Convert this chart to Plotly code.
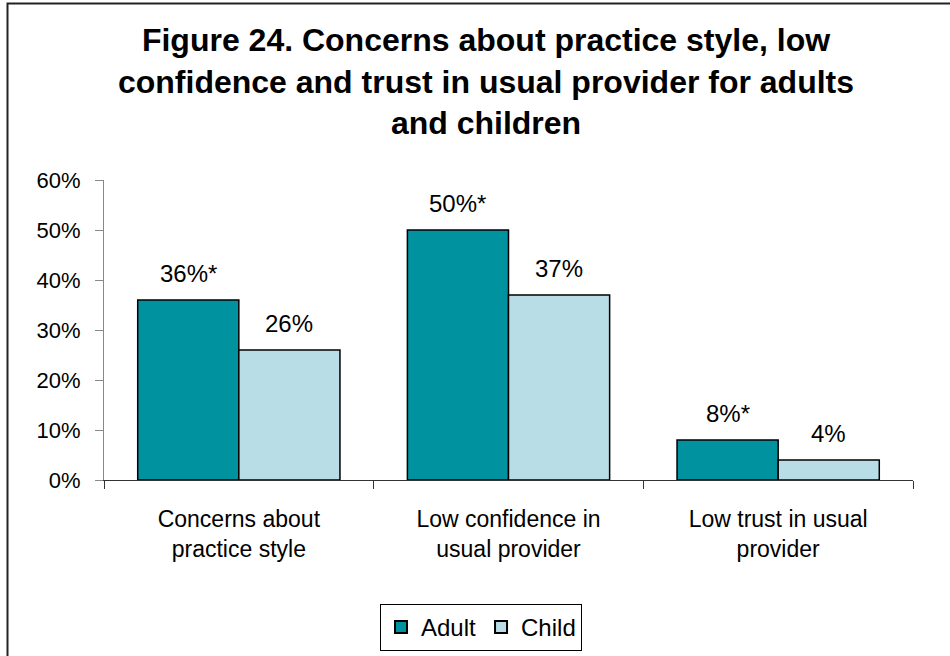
import plotly.graph_objects as go

# Survey results (percent of respondents)
categories = ["Concerns about<br>practice style",
              "Low confidence in<br>usual provider",
              "Low trust in usual<br>provider"]
adult = [36, 50, 8]
child = [26, 37, 4]
# Asterisk marks a statistically significant adult/child difference
adult_sig = [True, True, True]
child_sig = [False, False, False]
y_ticks = [0, 10, 20, 30, 40, 50, 60]
y_tick_labels = [f"{v}%" for v in y_ticks]

FONT = "Liberation Sans, Arial, sans-serif"
ADULT_COLOR = "#00929F"
CHILD_COLOR = "#B8DDE7"

W, H = 950, 656
ML, MR, MT, MB = 104, 37, 180, 176
PW, PH = W - ML - MR, H - MT - MB

fig = go.Figure()
fig.add_trace(go.Bar(name="Adult", x=categories, y=adult,
                     marker=dict(color=ADULT_COLOR, line=dict(color="black", width=1.5))))
fig.add_trace(go.Bar(name="Child", x=categories, y=child,
                     marker=dict(color=CHILD_COLOR, line=dict(color="black", width=1.5))))

BARGAP = 0.25
half = (1 - BARGAP) / 4  # centre offset of each bar in a two-bar group

annotations = []
for i in range(len(categories)):
    for vals, sig, off in ((adult, adult_sig, -half), (child, child_sig, half)):
        v = vals[i]
        annotations.append(dict(
            x=i + off, y=v, xref="x", yref="y",
            text=f"{v}%" + ("*" if sig[i] else ""),
            showarrow=False, yanchor="bottom", yshift=11,
            font=dict(family=FONT, size=24, color="black")))


def px_x(p):
    return (p - ML) / PW


def px_y(p):
    return (H - MB - p) / PH


fig.update_layout(
    width=W, height=H,
    margin=dict(l=ML, r=MR, t=MT, b=MB, autoexpand=False),
    paper_bgcolor="white", plot_bgcolor="white",
    barmode="group", bargap=BARGAP, bargroupgap=0,
    title=dict(
        text="Figure 24. Concerns about practice style, low<br>"
             "confidence and trust in usual provider for adults<br>"
             "and children",
        x=486 / W, xanchor="center", y=1 - 51 / H, yanchor="top",
        font=dict(family=FONT, size=32, color="black", weight="bold")),
    font=dict(family=FONT, size=22, color="black"),
    xaxis=dict(
        type="category", showline=True, linecolor="#333333", linewidth=1,
        ticks="outside", tickson="boundaries", ticklen=8, tickcolor="#333333",
        tickfont=dict(family=FONT, size=23, color="black"),
        showgrid=False, zeroline=False, automargin=False, ticklabelstandoff=18),
    yaxis=dict(
        range=[0, 60], tickvals=y_ticks, ticktext=y_tick_labels,
        showline=True, linecolor="#888888", linewidth=1,
        ticks="outside", ticklen=8, tickcolor="#888888",
        tickfont=dict(family=FONT, size=22, color="black"),
        showgrid=False, zeroline=False, automargin=False, ticklabelstandoff=10),
    legend=dict(
        orientation="h", x=px_x(481), xanchor="center", y=px_y(604), yanchor="top",
        bordercolor="black", borderwidth=1,
        font=dict(family=FONT, size=24, color="black"),
        itemsizing="constant"),
    annotations=annotations,
    shapes=[dict(type="rect", xref="paper", yref="paper",
                 x0=px_x(7.5), x1=px_x(W + 10), y0=px_y(H + 10), y1=px_y(3.5),
                 line=dict(color="#222222", width=2), layer="below")],
)

fig.write_html("out.html")
